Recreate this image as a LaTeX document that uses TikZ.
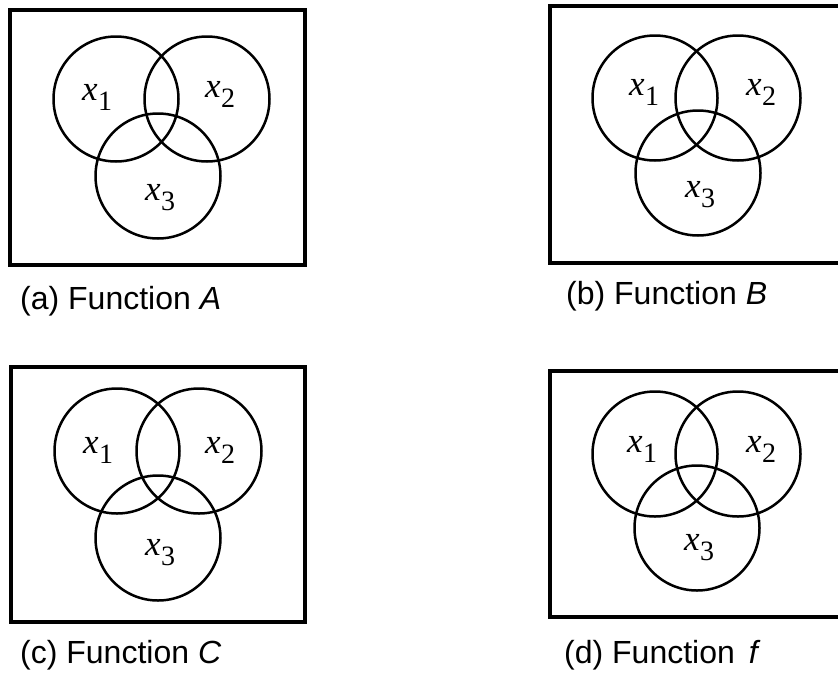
\documentclass[tikz,border=0pt]{standalone}
\usepackage{fontspec}
\setmainfont{Liberation Serif}
\newfontfamily\capfont{Liberation Sans}
\tikzset{
  frame/.style={draw, line width=4.5pt},
  venn/.style={draw, circle, line width=2.5pt, minimum size=125pt, inner sep=0pt},
  var/.style={anchor=base west, inner sep=0pt, font=\fontsize{35}{35}\selectfont\itshape},
  captxt/.style={anchor=base west, inner sep=0pt, font=\capfont\fontsize{32}{36}\selectfont},
}
\newcommand{\vx}[1]{x\kern0.5pt\raisebox{-10pt}{\upshape\fontsize{28}{28}\selectfont #1}}
\begin{document}
\begin{tikzpicture}[x=1pt,y=-1pt]
\useasboundingbox (0,0) rectangle (838,675);
\clip (0,0) rectangle (838,675);
% panel (a)
\draw[frame] (10,10) rectangle (305,265);
\node[venn] (a1) at (116,99) {};
\node[venn] (a2) at (207,99) {};
\node[venn] (a3) at (158,176) {};
\node[var] (la1) at (82,100) {\vx{1}};
\node[var] (la2) at (205,97) {\vx{2}};
\node[var] (la3) at (145,200) {\vx{3}};
\node[captxt] (ca) at (20,309) {(a) Function \textit{A}};
% panel (b)
\draw[frame] (550,6) rectangle (860,263);
\node[venn] (b1) at (655,98) {};
\node[venn] (b2) at (738,98) {};
\node[venn] (b3) at (698,173) {};
\node[var] (lb1) at (629,95) {\vx{1}};
\node[var] (lb2) at (746,95) {\vx{2}};
\node[var] (lb3) at (685,197) {\vx{3}};
\node[captxt] (cb) at (566,304) {(b) Function \textit{B}};
% panel (c)
\draw[frame] (11,367) rectangle (305,622);
\node[venn] (c1) at (117,451) {};
\node[venn] (c2) at (199,451) {};
\node[venn] (c3) at (158,538) {};
\node[var] (lc1) at (83,453) {\vx{1}};
\node[var] (lc2) at (205,453) {\vx{2}};
\node[var] (lc3) at (145,555) {\vx{3}};
\node[captxt] (cc) at (20,663) {(c) Function \textit{C}};
% panel (d)
\draw[frame] (550,371) rectangle (860,617);
\node[venn] (d1) at (655,454) {};
\node[venn] (d2) at (738,454) {};
\node[venn] (d3) at (697,528) {};
\node[var] (ld1) at (627,452) {\vx{1}};
\node[var] (ld2) at (746,452) {\vx{2}};
\node[var] (ld3) at (684,550) {\vx{3}};
\node[captxt] (cd) at (564,663) {(d) Function\hspace{14pt}\textit{f}};
\end{tikzpicture}
\end{document}
